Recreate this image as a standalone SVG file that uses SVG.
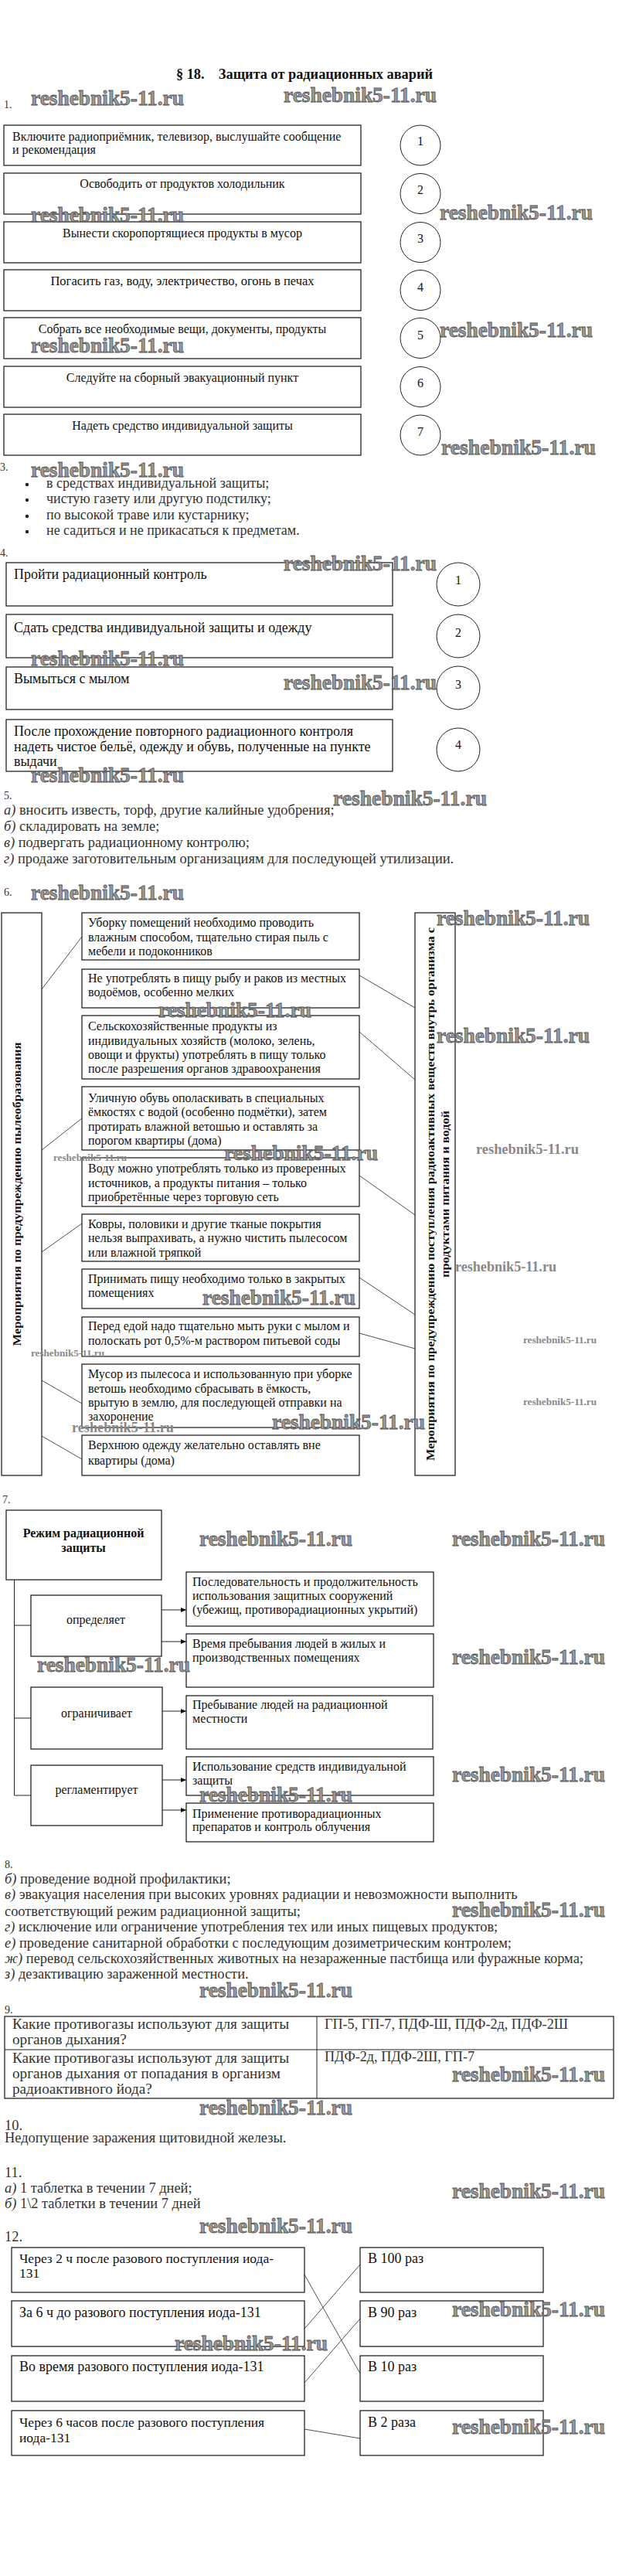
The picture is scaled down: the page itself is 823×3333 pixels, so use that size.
<svg xmlns="http://www.w3.org/2000/svg" width="823" height="3333" viewBox="0 0 823 3333">
<defs>
<style>
.t{font-family:"Liberation Serif","Times New Roman",serif;font-size:16px;fill:#111}
.g{font-family:"Liberation Serif","Times New Roman",serif;font-size:18.4px;fill:#333}
.n{font-family:"Liberation Serif","Times New Roman",serif;font-size:14px;fill:#333}
.b{fill:#fff;stroke:#111;stroke-width:1.2}
.c{fill:#fff;stroke:#222;stroke-width:1}
.ln{stroke:#222;stroke-width:0.8;fill:none}
.wm{font-family:"Liberation Serif",serif;font-weight:bold;font-size:27px;fill:#999;stroke:#555;stroke-width:0.8}
.ws{font-family:"Liberation Serif",serif;font-weight:bold;fill:#888}
.vt{font-family:"Liberation Serif",serif;font-weight:bold;font-size:15px;fill:#111}
</style>
<marker id="ar" markerWidth="7" markerHeight="6" refX="7" refY="3" orient="auto" markerUnits="userSpaceOnUse">
<path d="M0,0 L7,3 L0,6 z" fill="#111"/>
</marker>
</defs>
<rect width="823" height="3333" fill="#fff"/>

<text x="228" y="102" style="font-family:'Liberation Serif',serif;font-weight:bold;font-size:18px;fill:#111" xml:space="preserve" textLength="332" lengthAdjust="spacingAndGlyphs">§ 18.    Защита от радиационных аварий</text>

<!-- Section 1 -->
<text class="n" x="5" y="140">1.</text>
<g id="s1-box1"><rect class="b" x="5" y="162" width="462" height="52"/><text class="t" x="16" y="182">Включите радиоприёмник, телевизор, выслушайте сообщение</text><text class="t" x="16" y="199">и рекомендация</text></g>
<g id="s1-box2"><rect class="b" x="5" y="224" width="462" height="53"/><text class="t" x="236" y="243" text-anchor="middle">Освободить от продуктов холодильник</text></g>
<g id="s1-box3"><rect class="b" x="5" y="287" width="462" height="53"/><text class="t" x="236" y="307" text-anchor="middle">Вынести скоропортящиеся продукты в мусор</text></g>
<g id="s1-box4"><rect class="b" x="5" y="349" width="462" height="53"/><text class="t" x="236" y="369" text-anchor="middle" style="font-size:16.5px">Погасить газ, воду, электричество, огонь в печах</text></g>
<g id="s1-box5"><rect class="b" x="5" y="411" width="462" height="53"/><text class="t" x="236" y="431" text-anchor="middle">Собрать все необходимые вещи, документы, продукты</text></g>
<g id="s1-box6"><rect class="b" x="5" y="474" width="462" height="53"/><text class="t" x="236" y="494" text-anchor="middle">Следуйте на сборный эвакуационный пункт</text></g>
<g id="s1-box7"><rect class="b" x="5" y="536" width="462" height="53"/><text class="t" x="236" y="556" text-anchor="middle">Надеть средство индивидуальной защиты</text></g>
<g id="s1-c1"><circle class="c" cx="544" cy="188" r="26"/><text class="t" x="544" y="188" text-anchor="middle">1</text></g>
<g id="s1-c2"><circle class="c" cx="544" cy="250.5" r="26"/><text class="t" x="544" y="251" text-anchor="middle">2</text></g>
<g id="s1-c3"><circle class="c" cx="544" cy="313.5" r="26"/><text class="t" x="544" y="314" text-anchor="middle">3</text></g>
<g id="s1-c4"><circle class="c" cx="544" cy="375.5" r="26"/><text class="t" x="544" y="377" text-anchor="middle">4</text></g>
<g id="s1-c5"><circle class="c" cx="544" cy="437.5" r="26"/><text class="t" x="544" y="439" text-anchor="middle">5</text></g>
<g id="s1-c6"><circle class="c" cx="544" cy="500.5" r="26"/><text class="t" x="544" y="501" text-anchor="middle">6</text></g>
<g id="s1-c7"><circle class="c" cx="544" cy="563" r="26"/><text class="t" x="544" y="564" text-anchor="middle">7</text></g>

<!-- Section 3 -->
<g id="s3">
<text class="n" x="0" y="609">3.</text>
<circle cx="35" cy="627" r="2.2" fill="#222"/><text class="g" x="60" y="631" style="font-size:18px">в средствах индивидуальной защиты;</text>
<circle cx="35" cy="647" r="2.2" fill="#222"/><text class="g" x="60" y="651" style="font-size:18px">чистую газету или другую подстилку;</text>
<circle cx="35" cy="668" r="2.2" fill="#222"/><text class="g" x="60" y="672" style="font-size:18px">по высокой траве или кустарнику;</text>
<circle cx="35" cy="688" r="2.2" fill="#222"/><text class="g" x="60" y="692" style="font-size:18px">не садиться и не прикасаться к предметам.</text>
</g>

<!-- Section 4 -->
<text class="n" x="0" y="720">4.</text>
<g id="s4-box1"><rect class="b" x="8" y="728" width="500" height="56"/><text class="t" x="18" y="749" style="font-size:18px">Пройти радиационный контроль</text></g>
<g id="s4-box2"><rect class="b" x="8" y="795" width="500" height="56"/><text class="t" x="18" y="818" style="font-size:18px">Сдать средства индивидуальной защиты и одежду</text></g>
<g id="s4-box3"><rect class="b" x="8" y="863" width="500" height="55"/><text class="t" x="18" y="884" style="font-size:18px">Вымыться с мылом</text></g>
<g id="s4-box4"><rect class="b" x="8" y="931" width="500" height="67"/><text class="t" x="18" y="952" style="font-size:18px">После прохождение повторного радиационного контроля</text><text class="t" x="18" y="972" style="font-size:18px">надеть чистое бельё, одежду и обувь, полученные на пункте</text><text class="t" x="18" y="991" style="font-size:18px">выдачи</text></g>
<g id="s4-c1"><circle class="c" cx="593" cy="756" r="28"/><text class="t" x="593" y="756" text-anchor="middle">1</text></g>
<g id="s4-c2"><circle class="c" cx="593" cy="823" r="28"/><text class="t" x="593" y="824" text-anchor="middle">2</text></g>
<g id="s4-c3"><circle class="c" cx="593" cy="890" r="28"/><text class="t" x="593" y="891" text-anchor="middle">3</text></g>
<g id="s4-c4"><circle class="c" cx="593" cy="970" r="28"/><text class="t" x="593" y="969" text-anchor="middle">4</text></g>

<!-- Section 5 -->
<g id="s5">
<text class="n" x="5" y="1034">5.</text>
<text class="g" x="5" y="1054"><tspan font-style="italic">а)</tspan> вносить известь, торф, другие калийные удобрения;</text>
<text class="g" x="5" y="1075"><tspan font-style="italic">б)</tspan> складировать на земле;</text>
<text class="g" x="5" y="1096"><tspan font-style="italic">в)</tspan> подвергать радиационному контролю;</text>
<text class="g" x="5" y="1117"><tspan font-style="italic">г)</tspan> продаже заготовительным организациям для последующей утилизации.</text>
</g>

<!-- Section 6 -->
<text class="n" x="5" y="1159">6.</text>
<g id="s6-left"><rect class="b" x="2" y="1181" width="52" height="728"/><text class="vt" transform="translate(27,1545) rotate(-90)" text-anchor="middle" textLength="393" lengthAdjust="spacingAndGlyphs">Мероприятия по предупреждению пылеобразования</text></g>
<g id="s6-right"><rect class="b" x="537" y="1181" width="52" height="728"/><text class="vt" transform="translate(562,1545) rotate(-90)" text-anchor="middle" style="font-size:14px" textLength="690" lengthAdjust="spacingAndGlyphs">Мероприятия по предупреждению поступления радиоактивных веществ внутрь организма с</text><text class="vt" transform="translate(581,1545) rotate(-90)" text-anchor="middle" style="font-size:14px" textLength="216" lengthAdjust="spacingAndGlyphs">продуктами питания и водой</text></g>
<g id="s6-a"><rect class="b" x="106" y="1181" width="359" height="61"/><text class="t" x="114" y="1199">Уборку помещений необходимо проводить</text><text class="t" x="114" y="1218">влажным способом, тщательно стирая пыль с</text><text class="t" x="114" y="1236">мебели и подоконников</text></g>
<g id="s6-b"><rect class="b" x="106" y="1254" width="359" height="50"/><text class="t" x="114" y="1271">Не употреблять в пищу рыбу и раков из местных</text><text class="t" x="114" y="1289">водоёмов, особенно мелких</text></g>
<g id="s6-c"><rect class="b" x="106" y="1314" width="359" height="82"/><text class="t" x="114" y="1333">Сельскохозяйственные продукты из</text><text class="t" x="114" y="1352">индивидуальных хозяйств (молоко, зелень,</text><text class="t" x="114" y="1370">овощи и фрукты) употреблять в пищу только</text><text class="t" x="114" y="1388">после разрешения органов здравоохранения</text></g>
<g id="s6-d"><rect class="b" x="106" y="1406" width="359" height="82"/><text class="t" x="114" y="1426">Уличную обувь ополаскивать в специальных</text><text class="t" x="114" y="1444">ёмкостях с водой (особенно подмётки), затем</text><text class="t" x="114" y="1463">протирать влажной ветошью и оставлять за</text><text class="t" x="114" y="1481">порогом квартиры (дома)</text></g>
<g id="s6-e"><rect class="b" x="106" y="1498" width="359" height="63"/><text class="t" x="114" y="1517">Воду можно употреблять только из проверенных</text><text class="t" x="114" y="1536">источников, а продукты питания – только</text><text class="t" x="114" y="1554">приобретённые через торговую сеть</text></g>
<g id="s6-f"><rect class="b" x="106" y="1571" width="359" height="61"/><text class="t" x="114" y="1589">Ковры, половики и другие тканые покрытия</text><text class="t" x="114" y="1607">нельзя выпрахивать, а нужно чистить пылесосом</text><text class="t" x="114" y="1626">или влажной тряпкой</text></g>
<g id="s6-g"><rect class="b" x="106" y="1642" width="359" height="51"/><text class="t" x="114" y="1660">Принимать пищу необходимо только в закрытых</text><text class="t" x="114" y="1678">помещениях</text></g>
<g id="s6-h"><rect class="b" x="106" y="1704" width="359" height="51"/><text class="t" x="114" y="1721">Перед едой надо тщательно мыть руки с мылом и</text><text class="t" x="114" y="1740">полоскать рот 0,5%-м раствором питьевой соды</text></g>
<g id="s6-i"><rect class="b" x="106" y="1765" width="359" height="82"/><text class="t" x="114" y="1783">Мусор из пылесоса и использованную при уборке</text><text class="t" x="114" y="1802">ветошь необходимо сбрасывать в ёмкость,</text><text class="t" x="114" y="1820">врытую в землю, для последующей отправки на</text><text class="t" x="114" y="1838">захоронение</text></g>
<g id="s6-j"><rect class="b" x="106" y="1857" width="359" height="52"/><text class="t" x="114" y="1875">Верхнюю одежду желательно оставлять вне</text><text class="t" x="114" y="1895">квартиры (дома)</text></g>

<!-- Section 7 -->
<text class="n" x="3" y="1945">7.</text>
<g id="s7-main"><rect class="b" x="8" y="1954" width="201" height="90"/><text class="t" x="108" y="1989" text-anchor="middle" font-weight="bold">Режим радиационной</text><text class="t" x="108" y="2008" text-anchor="middle" font-weight="bold">защиты</text></g>
<g id="s7-opr"><rect class="b" x="40" y="2064" width="169" height="79"/><text class="t" x="124" y="2101" text-anchor="middle">определяет</text></g>
<g id="s7-ogr"><rect class="b" x="40" y="2183" width="170" height="80"/><text class="t" x="125" y="2222" text-anchor="middle">ограничивает</text></g>
<g id="s7-reg"><rect class="b" x="40" y="2284" width="170" height="78"/><text class="t" x="125" y="2321" text-anchor="middle">регламентирует</text></g>
<g id="s7-r1"><rect class="b" x="241" y="2034" width="320" height="70"/><text class="t" x="249" y="2052">Последовательность и продолжительность</text><text class="t" x="249" y="2070">использования защитных сооружений</text><text class="t" x="249" y="2088">(убежищ, противорадиационных укрытий)</text></g>
<g id="s7-r2"><rect class="b" x="241" y="2114" width="320" height="69"/><text class="t" x="249" y="2132">Время пребывания людей в жилых и</text><text class="t" x="249" y="2150">производственных помещениях</text></g>
<g id="s7-r3"><rect class="b" x="241" y="2194" width="319" height="69"/><text class="t" x="249" y="2211">Пребывание людей на радиационной</text><text class="t" x="249" y="2229">местности</text></g>
<g id="s7-r4"><rect class="b" x="241" y="2273" width="320" height="50"/><text class="t" x="249" y="2291">Использование средств индивидуальной</text><text class="t" x="249" y="2309">защиты</text></g>
<g id="s7-r5"><rect class="b" x="241" y="2333" width="320" height="50"/><text class="t" x="249" y="2352">Применение противорадиационных</text><text class="t" x="249" y="2369">препаратов и контроль облучения</text></g>

<!-- Section 8 -->
<g id="s8">
<text class="n" x="6" y="2417">8.</text>
<text class="g" x="6" y="2437"><tspan font-style="italic">б)</tspan> проведение водной профилактики;</text>
<text class="g" x="6" y="2457"><tspan font-style="italic">в)</tspan> эвакуация населения при высоких уровнях радиации и невозможности выполнить</text>
<text class="g" x="6" y="2479">соответствующий режим радиационной защиты;</text>
<text class="g" x="6" y="2499"><tspan font-style="italic">г)</tspan> исключение или ограничение употребления тех или иных пищевых продуктов;</text>
<text class="g" x="6" y="2520"><tspan font-style="italic">е)</tspan> проведение санитарной обработки с последующим дозиметрическим контролем;</text>
<text class="g" x="6" y="2540"><tspan font-style="italic">ж)</tspan> перевод сельскохозяйственных животных на незараженные пастбища или фуражные корма;</text>
<text class="g" x="6" y="2560"><tspan font-style="italic">з)</tspan> дезактивацию зараженной местности.</text>
</g>

<!-- Section 9 -->
<text class="n" x="6" y="2605">9.</text>
<g id="s9-table">
<rect class="b" x="6" y="2609" width="788" height="106"/>
<line class="ln" x1="6" y1="2652" x2="794" y2="2652" style="stroke-width:1.2"/>
<line class="ln" x1="410" y1="2609" x2="410" y2="2715" style="stroke-width:1"/>
<text class="g" x="16" y="2625" style="font-size:19.2px">Какие противогазы используют для защиты</text>
<text class="g" x="16" y="2645" style="font-size:19.2px">органов дыхания?</text>
<text class="g" x="420" y="2625" textLength="315" lengthAdjust="spacingAndGlyphs">ГП-5, ГП-7, ПДФ-Ш, ПДФ-2д, ПДФ-2Ш</text>
<text class="g" x="16" y="2669" style="font-size:19.2px">Какие противогазы используют для защиты</text>
<text class="g" x="16" y="2689" style="font-size:19.2px">органов дыхания от попадания в организм</text>
<text class="g" x="16" y="2709" style="font-size:19.2px">радиоактивного йода?</text>
<text class="g" x="420" y="2667" textLength="194" lengthAdjust="spacingAndGlyphs">ПДФ-2д, ПДФ-2Ш, ГП-7</text>
</g>

<!-- Section 10, 11 -->
<g id="s10">
<text class="g" x="6" y="2756">10.</text>
<text class="g" x="6" y="2772">Недопущение заражения щитовидной железы.</text>
</g>
<g id="s11">
<text class="g" x="6" y="2817">11.</text>
<text class="g" x="6" y="2837"><tspan font-style="italic">а)</tspan> 1 таблетка в течении 7 дней;</text>
<text class="g" x="6" y="2857"><tspan font-style="italic">б)</tspan> 1\2 таблетки в течении 7 дней</text>
</g>

<!-- Section 12 -->
<text class="g" x="6" y="2900">12.</text>
<g id="s12-l1"><rect class="b" x="15" y="2908" width="379" height="58"/><text class="t" x="25" y="2928" style="font-size:17.5px">Через 2 ч после разового поступления иода-</text><text class="t" x="25" y="2947" style="font-size:17.5px">131</text></g>
<g id="s12-l2"><rect class="b" x="15" y="2977" width="379" height="59"/><text class="t" x="25" y="2998" style="font-size:18px">За 6 ч до разового поступления иода-131</text></g>
<g id="s12-l3"><rect class="b" x="15" y="3048" width="379" height="59"/><text class="t" x="25" y="3068" style="font-size:18px">Во время разового поступления иода-131</text></g>
<g id="s12-l4"><rect class="b" x="15" y="3119" width="379" height="58"/><text class="t" x="25" y="3140" style="font-size:17.5px">Через 6 часов после разового поступления</text><text class="t" x="25" y="3160" style="font-size:17.5px">иода-131</text></g>
<g id="s12-r1"><rect class="b" x="466" y="2908" width="237" height="58"/><text class="t" x="476" y="2928" style="font-size:18px">В 100 раз</text></g>
<g id="s12-r2"><rect class="b" x="466" y="2977" width="237" height="59"/><text class="t" x="476" y="2998" style="font-size:18px">В 90 раз</text></g>
<g id="s12-r3"><rect class="b" x="466" y="3048" width="237" height="59"/><text class="t" x="476" y="3068" style="font-size:18px">В 10 раз</text></g>
<g id="s12-r4"><rect class="b" x="466" y="3119" width="237" height="58"/><text class="t" x="476" y="3140" style="font-size:18px">В 2 раза</text></g>

<!-- Connectors -->
<g id="connectors">
<line class="ln" x1="54" y1="1280" x2="106" y2="1212"/>
<line class="ln" x1="54" y1="1488" x2="106" y2="1447"/>
<line class="ln" x1="54" y1="1620" x2="106" y2="1583"/>
<line class="ln" x1="54" y1="1786" x2="106" y2="1816"/>
<line class="ln" x1="54" y1="1858" x2="106" y2="1888"/>
<line class="ln" x1="465" y1="1262" x2="537" y2="1304"/>
<line class="ln" x1="465" y1="1335" x2="537" y2="1397"/>
<line class="ln" x1="465" y1="1521" x2="537" y2="1572"/>
<line class="ln" x1="465" y1="1653" x2="537" y2="1701"/>
<line class="ln" x1="465" y1="1725" x2="537" y2="1745"/>
<path class="ln" d="M18.5,2044 V2323 M18.5,2103 H40 M18.5,2223 H40 M18.5,2323 H40" style="stroke-width:1"/>
<line class="ln" x1="209" y1="2083" x2="241" y2="2083" marker-end="url(#ar)" style="stroke-width:1"/>
<line class="ln" x1="209" y1="2124" x2="241" y2="2124" marker-end="url(#ar)" style="stroke-width:1"/>
<line class="ln" x1="210" y1="2214" x2="241" y2="2214" marker-end="url(#ar)" style="stroke-width:1"/>
<line class="ln" x1="210" y1="2303" x2="241" y2="2303" marker-end="url(#ar)" style="stroke-width:1"/>
<line class="ln" x1="210" y1="2342" x2="241" y2="2342" marker-end="url(#ar)" style="stroke-width:1"/>
<line class="ln" x1="394" y1="2943" x2="466" y2="3071"/>
<line class="ln" x1="394" y1="3013" x2="466" y2="2930"/>
<line class="ln" x1="394" y1="3083" x2="466" y2="3000"/>
<line class="ln" x1="394" y1="3143" x2="466" y2="3155"/>
</g>

<!-- Watermarks -->
<g id="watermarks">
<text class="wm" x="40" y="136" textLength="198" lengthAdjust="spacingAndGlyphs">reshebnik5-11.ru</text>
<text class="wm" x="367" y="132" textLength="198" lengthAdjust="spacingAndGlyphs">reshebnik5-11.ru</text>
<text class="wm" x="40" y="287" textLength="198" lengthAdjust="spacingAndGlyphs">reshebnik5-11.ru</text>
<text class="wm" x="569" y="284" textLength="198" lengthAdjust="spacingAndGlyphs">reshebnik5-11.ru</text>
<text class="wm" x="40" y="456" textLength="198" lengthAdjust="spacingAndGlyphs">reshebnik5-11.ru</text>
<text class="wm" x="569" y="436" textLength="198" lengthAdjust="spacingAndGlyphs">reshebnik5-11.ru</text>
<text class="wm" x="571" y="588" textLength="200" lengthAdjust="spacingAndGlyphs">reshebnik5-11.ru</text>
<text class="wm" x="40" y="617" textLength="198" lengthAdjust="spacingAndGlyphs">reshebnik5-11.ru</text>
<text class="wm" x="367" y="738" textLength="198" lengthAdjust="spacingAndGlyphs">reshebnik5-11.ru</text>
<text class="wm" x="40" y="861" textLength="198" lengthAdjust="spacingAndGlyphs">reshebnik5-11.ru</text>
<text class="wm" x="367" y="892" textLength="198" lengthAdjust="spacingAndGlyphs">reshebnik5-11.ru</text>
<text class="wm" x="40" y="1012" textLength="198" lengthAdjust="spacingAndGlyphs">reshebnik5-11.ru</text>
<text class="wm" x="431" y="1042" textLength="199" lengthAdjust="spacingAndGlyphs">reshebnik5-11.ru</text>
<text class="wm" x="40" y="1164" textLength="198" lengthAdjust="spacingAndGlyphs">reshebnik5-11.ru</text>
<text class="wm" x="565" y="1197" textLength="198" lengthAdjust="spacingAndGlyphs">reshebnik5-11.ru</text>
<text class="wm" x="205" y="1316" textLength="198" lengthAdjust="spacingAndGlyphs">reshebnik5-11.ru</text>
<text class="wm" x="565" y="1349" textLength="198" lengthAdjust="spacingAndGlyphs">reshebnik5-11.ru</text>
<text class="wm" x="290" y="1501" textLength="199" lengthAdjust="spacingAndGlyphs">reshebnik5-11.ru</text>
<text class="ws" x="69" y="1502" style="font-size:13px" textLength="95" lengthAdjust="spacingAndGlyphs">reshebnik5-11.ru</text>
<text class="ws" x="616" y="1493" style="font-size:18px" textLength="133" lengthAdjust="spacingAndGlyphs">reshebnik5-11.ru</text>
<text class="ws" x="589" y="1645" style="font-size:18px" textLength="131" lengthAdjust="spacingAndGlyphs">reshebnik5-11.ru</text>
<text class="wm" x="262" y="1688" textLength="198" lengthAdjust="spacingAndGlyphs">reshebnik5-11.ru</text>
<text class="ws" x="677" y="1738" style="font-size:13px" textLength="95" lengthAdjust="spacingAndGlyphs">reshebnik5-11.ru</text>
<text class="ws" x="40" y="1755" style="font-size:13px" textLength="95" lengthAdjust="spacingAndGlyphs">reshebnik5-11.ru</text>
<text class="ws" x="677" y="1818" style="font-size:13px" textLength="95" lengthAdjust="spacingAndGlyphs">reshebnik5-11.ru</text>
<text class="wm" x="352" y="1849" textLength="198" lengthAdjust="spacingAndGlyphs">reshebnik5-11.ru</text>
<text class="ws" x="93" y="1853" style="font-size:18px" textLength="132" lengthAdjust="spacingAndGlyphs">reshebnik5-11.ru</text>
<text class="wm" x="258" y="2000" textLength="198" lengthAdjust="spacingAndGlyphs">reshebnik5-11.ru</text>
<text class="wm" x="585" y="2000" textLength="198" lengthAdjust="spacingAndGlyphs">reshebnik5-11.ru</text>
<text class="wm" x="48" y="2163" textLength="198" lengthAdjust="spacingAndGlyphs">reshebnik5-11.ru</text>
<text class="wm" x="585" y="2153" textLength="198" lengthAdjust="spacingAndGlyphs">reshebnik5-11.ru</text>
<text class="wm" x="585" y="2305" textLength="198" lengthAdjust="spacingAndGlyphs">reshebnik5-11.ru</text>
<text class="wm" x="258" y="2331" textLength="198" lengthAdjust="spacingAndGlyphs">reshebnik5-11.ru</text>
<text class="wm" x="585" y="2480" textLength="198" lengthAdjust="spacingAndGlyphs">reshebnik5-11.ru</text>
<text class="wm" x="258" y="2584" textLength="198" lengthAdjust="spacingAndGlyphs">reshebnik5-11.ru</text>
<text class="wm" x="585" y="2693" textLength="198" lengthAdjust="spacingAndGlyphs">reshebnik5-11.ru</text>
<text class="wm" x="258" y="2736" textLength="198" lengthAdjust="spacingAndGlyphs">reshebnik5-11.ru</text>
<text class="wm" x="585" y="2844" textLength="198" lengthAdjust="spacingAndGlyphs">reshebnik5-11.ru</text>
<text class="wm" x="258" y="2889" textLength="198" lengthAdjust="spacingAndGlyphs">reshebnik5-11.ru</text>
<text class="wm" x="585" y="2997" textLength="198" lengthAdjust="spacingAndGlyphs">reshebnik5-11.ru</text>
<text class="wm" x="226" y="3041" textLength="198" lengthAdjust="spacingAndGlyphs">reshebnik5-11.ru</text>
<text class="wm" x="585" y="3149" textLength="198" lengthAdjust="spacingAndGlyphs">reshebnik5-11.ru</text>
</g>
</svg>
